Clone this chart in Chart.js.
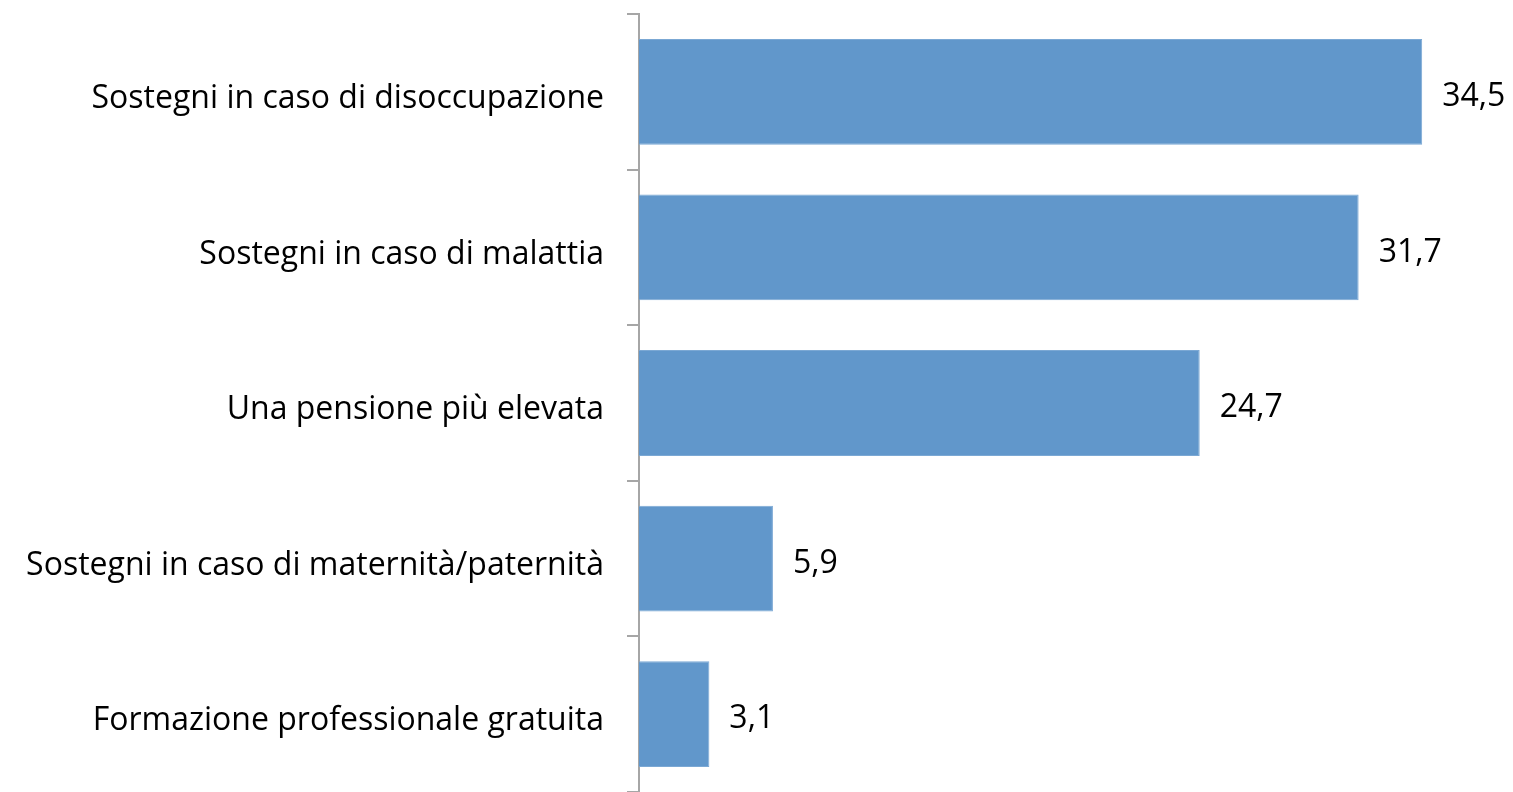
<!DOCTYPE html>
<html>
<head>
<meta charset="utf-8">
<script src="https://cdn.jsdelivr.net/npm/chart.js@4/dist/chart.umd.min.js"></script>
<style>
  html, body { margin: 0; padding: 0; background: #fff; }
  #wrap { width: 1513px; height: 792px; position: relative; }
</style>
</head>
<body>
<div id="wrap"><canvas id="myChart"></canvas></div>
<script>
// categories and values
const categories = [
    'Sostegni in caso di disoccupazione',
    'Sostegni in caso di malattia',
    'Una pensione più elevata',
    'Sostegni in caso di maternità/paternità',
    'Formazione professionale gratuita'
];
const values = [34.5, 31.7, 24.7, 5.9, 3.1];
const valueLabels = ['34,5', '31,7', '24,7', '5,9', '3,1'];

const fontFamily = "'Open Sans', sans-serif";
const fontSize = 32;

// draws the number to the right of each bar
const barValues = {
    id: 'barValues',
    afterDatasetsDraw(chart){
        const ctx = chart.ctx;
        const meta = chart.getDatasetMeta(0);
        ctx.save();
        ctx.font = fontSize + 'px ' + fontFamily;
        ctx.fillStyle = '#000';
        ctx.textAlign = 'left';
        ctx.textBaseline = 'middle';
        meta.data.forEach(function(bar, i){
            ctx.fillText(valueLabels[i], bar.x + 20, bar.y + 5);
        });
        ctx.restore();
    }
};

const data = {
    labels: categories,
    datasets: [{
        data: values,
        backgroundColor: '#6197CB',
        borderColor: '#7BA8D4',
        borderWidth: 1,
        barPercentage: 0.68,
        categoryPercentage: 1
    }]
};

const config = {
    type: 'bar',
    data: data,
    options: {
        indexAxis: 'y',
        responsive: true,
        maintainAspectRatio: false,
        animation: false,
        layout: { padding: { top: 14, bottom: 0, left: 0, right: 0 } },
        plugins: {
            legend: { display: false },
            tooltip: { enabled: false }
        },
        scales: {
            x: {
                display: false,
                min: 0,
                max: 38.5
            },
            y: {
                afterFit(scale){
                    scale.width = 639;
                    scale.paddingTop = 0;
                    scale.paddingBottom = 0;
                },
                border: { color: '#A6A6A6', width: 2 },
                grid: {
                    offset: true,
                    drawOnChartArea: false,
                    tickLength: 12,
                    color: '#A6A6A6',
                    lineWidth: 2
                },
                ticks: {
                    padding: 23,
                    labelOffset: 7,
                    color: '#000',
                    font: { family: fontFamily, size: fontSize }
                }
            }
        }
    },
    plugins: [barValues]
};

const myChart = new Chart(document.getElementById('myChart'), config);
</script>
</body>
</html>
